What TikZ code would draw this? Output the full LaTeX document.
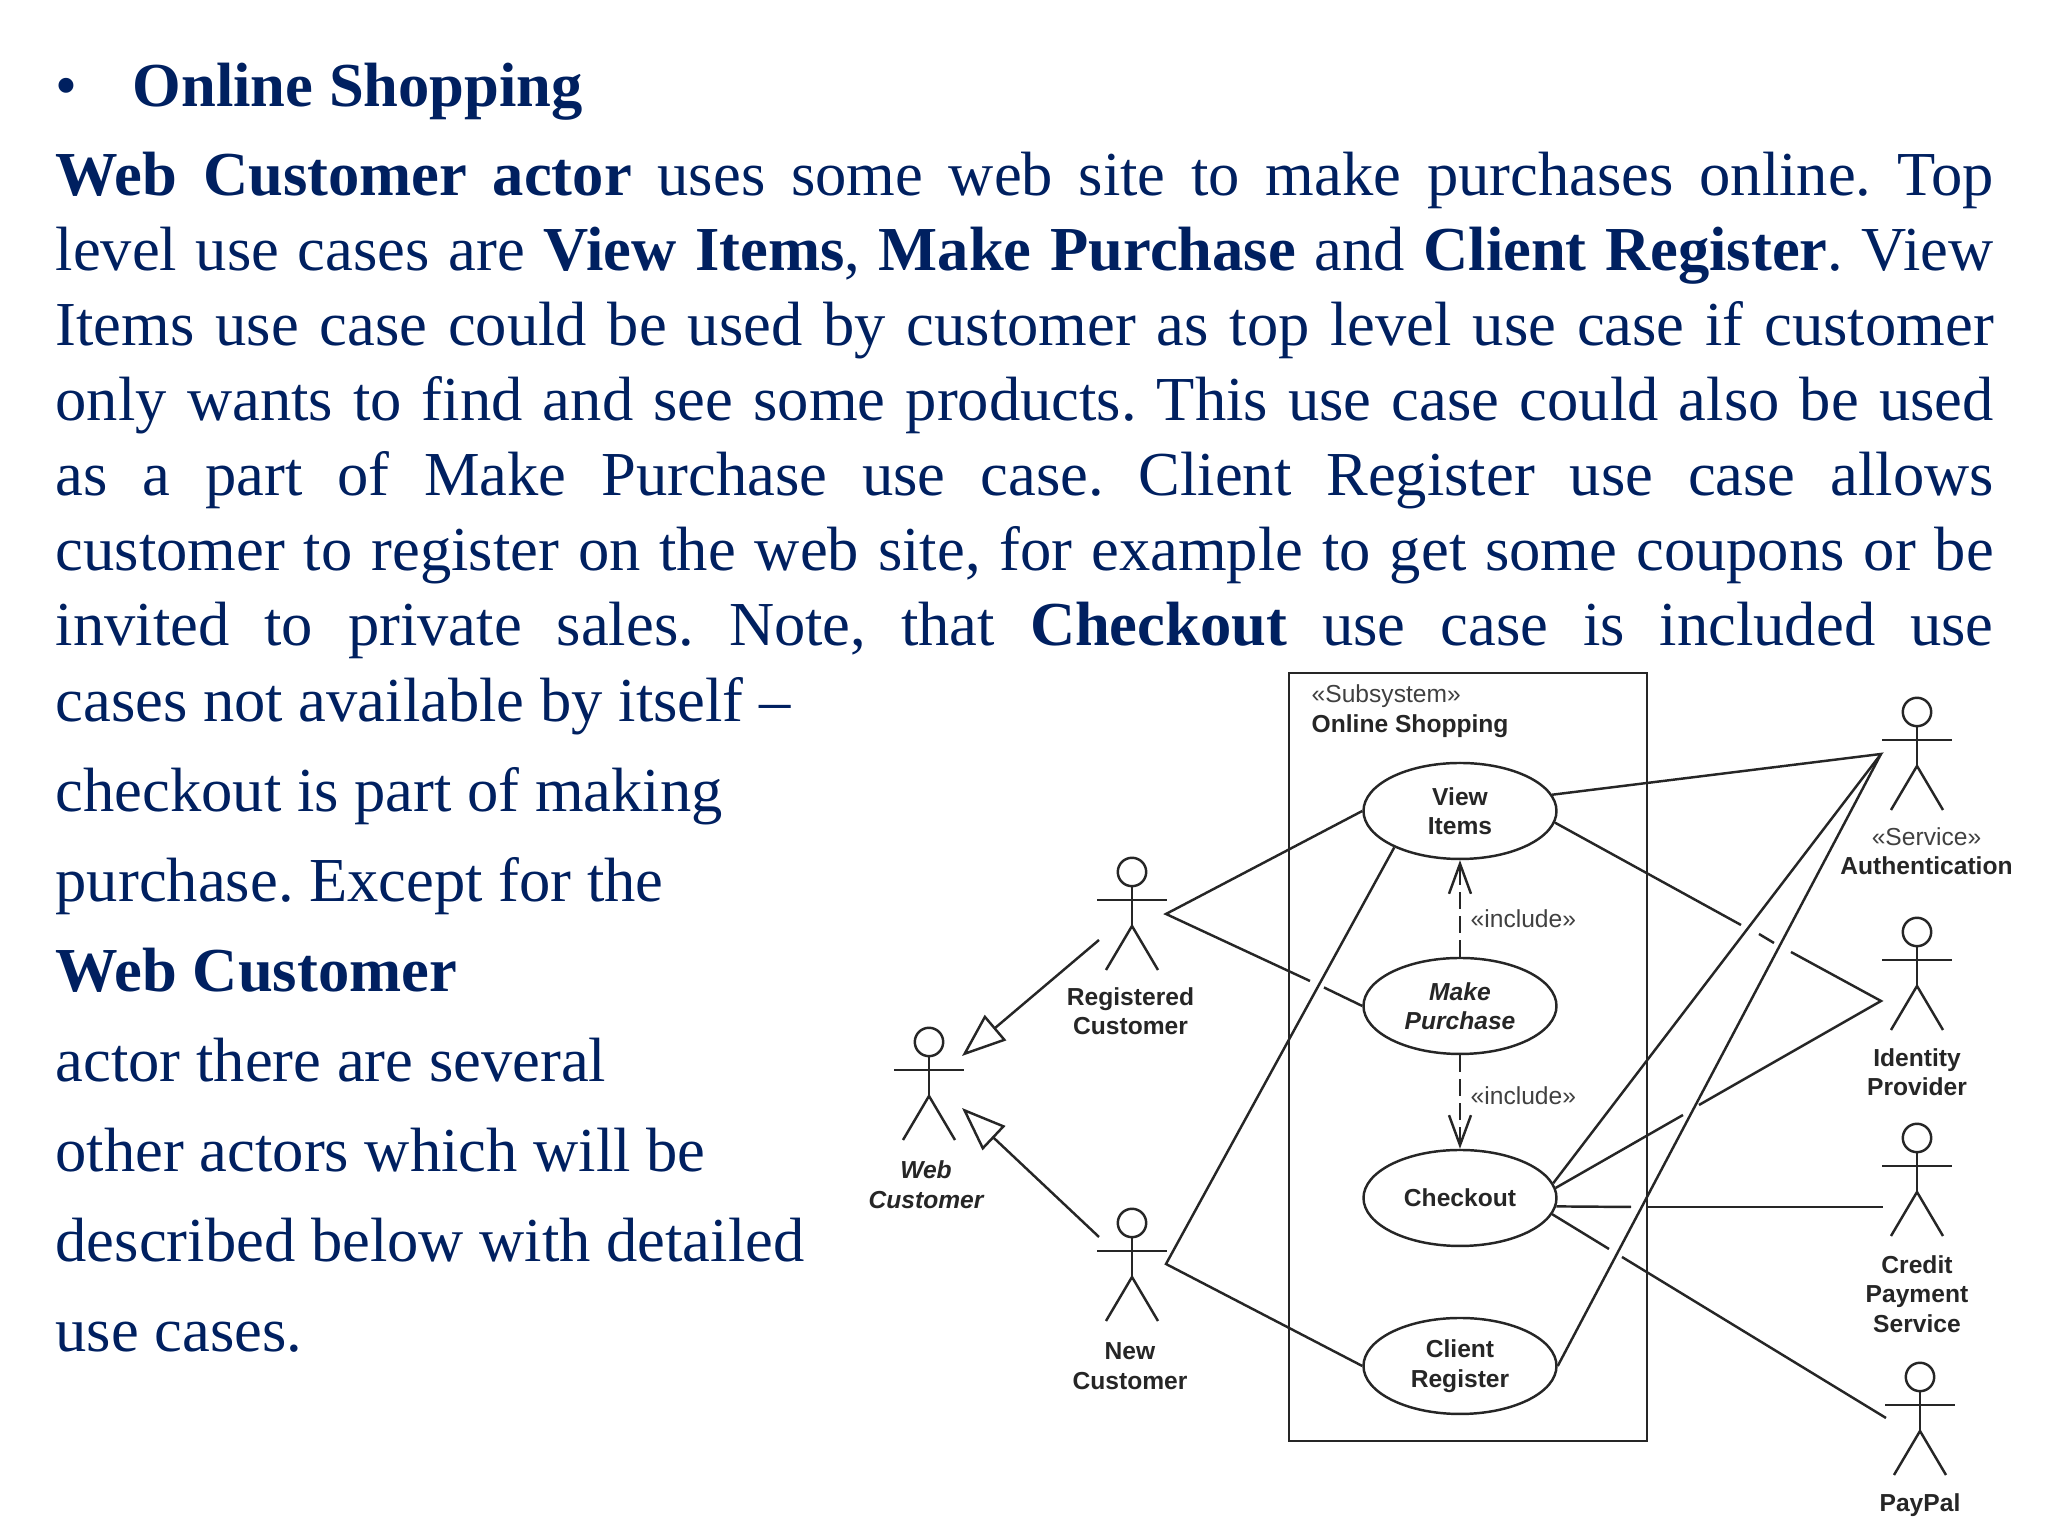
\documentclass[tikz,border=0pt]{standalone}
\usepackage{fontspec}
\setmainfont{Liberation Serif}
\newfontfamily\umlfont{Liberation Sans}
\usetikzlibrary{arrows.meta,shapes.geometric}
\definecolor{slideblue}{HTML}{002060}
\tikzset{
	slidetext/.style={inner sep=0, color=slideblue, font=\frenchspacing\fontsize{17.8}{21.34}\selectfont},
	umlline/.style={line width=0.7pt, color=black!85},
	usecase/.style={draw, ellipse, umlline, minimum width=1.93cm, minimum height=0.96cm, inner sep=0, align=center, text=black!85, font=\umlfont\fontsize{7}{8.4}\selectfont\bfseries},
	umllabel/.style={inner sep=0, align=center, text=black!85, font=\umlfont\fontsize{7}{8.4}\selectfont\bfseries},
	stereo/.style={inner sep=0, text=black!75, font=\umlfont\fontsize{7}{8.4}\selectfont},
	generalize/.style={umlline, -{Triangle[open,length=0.44cm,width=0.33cm]}},
	includeline/.style={umlline, dash pattern=on 0.17cm off 0.07cm, -{Straight Barb[length=0.3cm,width=0.22cm]}},
	actor/.pic={
		\draw[umlline] (0, 0) circle (0.142);
		\draw[umlline] (0, -0.142) -- (0, -0.54);
		\draw[umlline] (-0.35, -0.28) -- (0.35, -0.28);
		\draw[umlline] (-0.26, -0.98) -- (0, -0.54) -- (0.26, -0.98);
	}
}

\begin{document}
\begin{tikzpicture}
	%%%%% TEXT %%%%%
	\useasboundingbox (0, 0) rectangle (20.48, 15.36);

	\node[slidetext, anchor=base west] (bullet) at (0.55, 14.295) {•};
	\node[slidetext, anchor=base west] (title) at (1.32, 14.295) {\textbf{Online Shopping}};

	\node[slidetext, anchor=north west, text width=19.38cm, align=justify] (intro) at (0.55, 13.85) {
		\textbf{Web Customer actor} uses some web site to make purchases online. Top\linebreak
		level use cases are \textbf{View Items}, \textbf{Make Purchase} and \textbf{Client Register}. View\linebreak
		Items use case could be used by customer as top level use case if customer\linebreak
		only wants to find and see some products. This use case could also be used\linebreak
		as a part of Make Purchase use case. Client Register use case allows\linebreak
		customer to register on the web site, for example to get some coupons or be\linebreak
		invited to private sales. Note, that \textbf{Checkout} use case is included use\parfillskip=0pt\par};

	\node[slidetext, anchor=north west, align=left, font=\frenchspacing\fontsize{17.8}{25.6}\selectfont] (side) at (0.55, 8.59) {
		cases not available by itself –\\
		checkout is part of making\\
		purchase. Except for the\\
		\textbf{Web Customer}\\
		actor there are several\\
		other actors which will be\\
		described below with detailed\\
		use cases.};

	%%%%% SUBSYSTEM %%%%%
	\draw[umlline, line width=0.8pt] (12.89, 8.63) rectangle (16.47, 0.95);
	\node[stereo, anchor=west] (substereo) at (13.11, 8.4) {«Subsystem»};
	\node[umllabel, anchor=west] (subname) at (13.11, 8.1) {Online Shopping};

	\node[usecase] (view) at (14.6, 7.25) {View\\Items};
	\node[usecase, font=\umlfont\fontsize{7}{8.4}\selectfont\bfseries\itshape] (make) at (14.6, 5.3) {Make\\Purchase};
	\node[usecase] (checkout) at (14.6, 3.38) {Checkout};
	\node[usecase] (client) at (14.6, 1.7) {Client\\Register};

	\draw[includeline] (make.north) -- (view.south);
	\draw[includeline] (make.south) -- (checkout.north);
	\node[stereo, anchor=west] (incone) at (14.7, 6.175) {«include»};
	\node[stereo, anchor=west] (inctwo) at (14.7, 4.4) {«include»};

	%%%%% ACTORS %%%%%
	\pic at (9.29, 4.94) {actor};
	\pic at (11.32, 6.64) {actor};
	\pic at (11.32, 3.13) {actor};
	\pic at (19.17, 8.24) {actor};
	\pic at (19.17, 6.04) {actor};
	\pic at (19.17, 3.98) {actor};
	\pic at (19.2, 1.59) {actor};

	\node[umllabel, font=\umlfont\fontsize{7}{8.4}\selectfont\bfseries\itshape] (weblabel) at (9.26, 3.515) {Web\\Customer};
	\node[umllabel] (reglabel) at (11.305, 5.25) {Registered\\Customer};
	\node[umllabel] (newlabel) at (11.3, 1.7) {New\\Customer};
	\node[stereo] (authstereo) at (19.265, 6.99) {«Service»};
	\node[umllabel] (authlabel) at (19.265, 6.7) {Authentication};
	\node[umllabel] (idlabel) at (19.17, 4.64) {Identity\\Provider};
	\node[umllabel] (creditlabel) at (19.17, 2.42) {Credit\\Payment\\Service};
	\node[umllabel] (paypallabel) at (19.2, 0.305) {PayPal};

	%%%%% CONNECTORS %%%%%
	\coordinate (regend) at (11.66, 6.22);
	\coordinate (newend) at (11.66, 2.72);
	\coordinate (authend) at (18.81, 7.82);
	\coordinate (idend) at (18.81, 5.35);
	\coordinate (creditend) at (18.83, 3.29);
	\coordinate (paypalend) at (18.86, 1.18);

	\coordinate (regfrom) at (10.99, 5.96);
	\coordinate (webtipa) at (9.62, 4.8);
	\coordinate (newfrom) at (10.99, 2.99);
	\coordinate (webtipb) at (9.62, 4.28);

	\coordinate (makegapa) at (13.1, 5.55);
	\coordinate (makegapb) at (13.24, 5.485);
	\coordinate (viewgapa) at (17.41, 6.11);
	\coordinate (viewgapb) at (17.59, 6.02);
	\coordinate (viewgapc) at (17.74, 5.93);
	\coordinate (viewgapd) at (17.91, 5.84);
	\coordinate (idgapa) at (16.83, 4.21);
	\coordinate (idgapb) at (16.99, 4.31);
	\coordinate (creditgapa) at (16.31, 3.29);
	\coordinate (creditgapb) at (16.48, 3.29);
	\coordinate (paygapa) at (16.09, 2.87);
	\coordinate (paygapb) at (16.22, 2.79);

	\draw[generalize] (regfrom) -- (webtipa);
	\draw[generalize] (newfrom) -- (webtipb);

	\draw[umlline] (view.west) -- (regend) -- (makegapa);
	\draw[umlline] (makegapb) -- (make.west);
	\draw[umlline] (view.209) -- (newend) -- (client.west);

	\draw[umlline] (view.10) -- (authend) -- (checkout.9.4);
	\draw[umlline] (authend) -- (client.east);
	\draw[umlline] (view.-7) -- (viewgapa);
	\draw[umlline] (viewgapb) -- (viewgapc);
	\draw[umlline] (viewgapd) -- (idend) -- (idgapb);
	\draw[umlline] (idgapa) -- (checkout.6);
	\draw[umlline] (checkout.-5.35) -- (creditgapa);
	\draw[umlline] (creditgapb) -- (creditend);
	\draw[umlline] (checkout.-10.6) -- (paygapa);
	\draw[umlline] (paygapb) -- (paypalend);
	%%%%% END %%%%%
\end{tikzpicture}
\end{document}
